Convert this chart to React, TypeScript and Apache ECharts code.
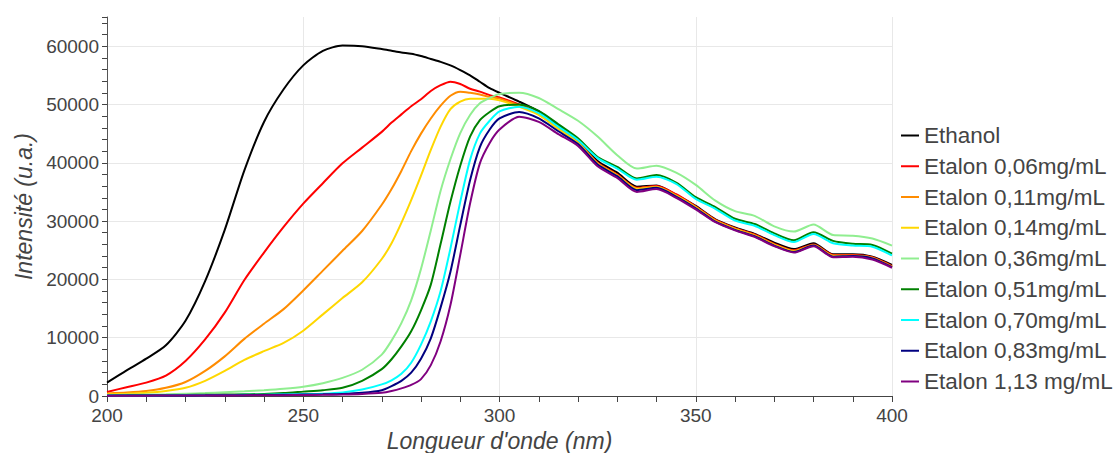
import React, { useEffect, useRef } from "react";
import * as echarts from "echarts";

const wavelengths = [
  200, 205, 210, 215, 220, 225, 230, 235, 240, 245, 250, 255, 260, 265, 270,
  272.5, 275, 277.5, 280, 282.5, 285, 287.5, 290, 292.5, 295, 297.5,
  300, 305, 310, 315, 320, 325, 330, 335, 340, 345, 350, 355, 360, 365, 370, 375, 380, 385, 390, 395, 400,
];

const seriesNames = [
  "Ethanol",
  "Etalon 0,06mg/mL",
  "Etalon 0,11mg/mL",
  "Etalon 0,14mg/mL",
  "Etalon 0,36mg/mL",
  "Etalon 0,51mg/mL",
  "Etalon 0,70mg/mL",
  "Etalon 0,83mg/mL",
  "Etalon 1,13 mg/mL",
];

const seriesColors = ["#000000", "#ff0000", "#ff8c00", "#ffd700", "#90ee90", "#008000", "#00ffff", "#000080", "#800080"];

const ethanol = [
  2300, 4400, 6400, 8700, 12900, 19700, 28500, 38700, 47000, 52600, 56700, 59200, 60100, 60000, 59500,
  59200, 58900, 58700, 58300, 57800, 57300, 56700, 55900, 55000, 53900, 52800,
  52000, 50500, 48800, 46400, 43900, 40300, 38300, 35900, 36100, 34500, 32600, 30300, 28900, 27800, 26300, 25200, 26200, 24300, 24300, 23900, 22500,
];
const etalon006 = [
  700, 1500, 2300, 3500, 6000, 9700, 14300, 19900, 24600, 29000, 33000, 36500, 39900, 42600, 45300,
  46900, 48300, 49700, 50900, 52300, 53300, 53900, 53500, 52700, 52200, 51600,
  51200, 50000, 48400, 46000, 43600, 40000, 38000, 35700, 36000, 34600, 32500, 30200, 28800, 27700, 26100, 25000, 26000, 24200, 24200, 23800, 22300,
];
const etalon011 = [
  450, 600, 850, 1400, 2400, 4300, 6800, 9800, 12400, 14900, 18100, 21500, 24900, 28300, 32800,
  35500, 38600, 42000, 45000, 47600, 49800, 51500, 52200, 52000, 51700, 51300,
  51000, 49800, 48300, 45900, 43500, 39900, 37900, 35600, 35900, 34400, 32400, 30100, 28700, 27600, 26000, 24900, 25900, 24100, 24100, 23700, 22200,
];
const etalon014 = [
  300, 400, 550, 850, 1400, 2600, 4300, 6200, 7700, 9100, 11200, 14000, 16800, 19500, 23500,
  26200, 29700, 33600, 37800, 42200, 46200, 49200, 50500, 51000, 51000, 51000,
  50700, 49600, 48200, 45800, 43400, 39800, 37800, 35500, 35800, 34300, 32300, 30000, 28600, 27500, 25900, 24800, 25800, 24000, 24000, 23600, 22100,
];
const etalon036 = [
  150, 200, 250, 300, 400, 500, 650, 800, 1000, 1250, 1600, 2200, 3100, 4500, 7100,
  9500, 12500, 16400, 21800, 28400, 35200, 40600, 45100, 48200, 50200, 51100,
  51800, 52000, 51100, 49200, 47200, 44500, 41300, 39000, 39500, 38300, 36200, 33500, 31700, 30900, 29100, 28200, 29400, 27600, 27500, 27000, 25800,
];
const etalon051 = [
  100, 110, 130, 150, 180, 210, 250, 300, 350, 500, 750, 1000, 1400, 2600, 4600,
  6300, 8500, 11100, 14700, 19100, 26100, 33300, 39500, 44500, 47300, 48700,
  49700, 50000, 48900, 46600, 44200, 41000, 39300, 37300, 37900, 36600, 34100, 32400, 30400, 29500, 27900, 26700, 28100, 26600, 26100, 25900, 24400,
];
const etalon070 = [
  80, 90, 100, 110, 130, 150, 170, 200, 230, 280, 340, 400, 600, 1100, 2000,
  2700, 3800, 5700, 8800, 12800, 18000, 25300, 33300, 40500, 45000, 47200,
  48800, 49600, 48500, 46200, 43900, 40800, 39000, 37100, 37600, 36400, 33800, 32100, 30100, 29200, 27600, 26400, 27800, 26200, 25800, 25600, 24100,
];
const etalon083 = [
  60, 70, 80, 90, 100, 110, 130, 150, 170, 200, 240, 280, 350, 550, 1000,
  1700, 2600, 4000, 6400, 9900, 15200, 21300, 29300, 37000, 42700, 45700,
  47600, 48700, 47600, 45400, 43200, 39700, 37700, 35300, 35700, 34200, 32200, 29900, 28500, 27400, 25800, 24700, 25800, 23900, 24000, 23600, 22100,
];
const etalon113 = [
  50, 55, 60, 70, 80, 90, 100, 110, 130, 150, 170, 200, 250, 350, 550,
  850, 1300, 1900, 2900, 5300, 9400, 15600, 24200, 33000, 39900, 43400,
  45700, 47900, 47000, 44900, 42900, 39400, 37400, 35000, 35500, 34000, 32000, 29800, 28400, 27300, 25700, 24600, 25700, 23800, 23900, 23400, 22000,
];

const allValues = [ethanol, etalon006, etalon011, etalon014, etalon036, etalon051, etalon070, etalon083, etalon113];

const FONT = "'Liberation Sans', Arial, Helvetica, sans-serif";
const TEXT = "#444444";
const GRID = "#e8e8e8";

export default function App() {
  const ref = useRef<HTMLDivElement>(null);
  useEffect(() => {
    if (!ref.current) return;
    const chart = echarts.init(ref.current, null, { renderer: "svg" });
    chart.setOption({
      animation: false,
      backgroundColor: "#ffffff",
      textStyle: { fontFamily: FONT },
      grid: [
        { left: 107, right: 226, top: 17, bottom: 57, containLabel: false, outerBoundsMode: "none" },
        { left: 107, right: 226, top: 46.2, bottom: 57, containLabel: false, outerBoundsMode: "none" },
      ],
      legend: {
        orient: "vertical",
        left: 901,
        top: 124,
        padding: 0,
        itemWidth: 18,
        itemHeight: 2,
        itemGap: 7.75,
        icon: "rect",
        data: seriesNames,
        textStyle: { fontSize: 22.5, color: TEXT, fontFamily: FONT, lineHeight: 22 },
      },
      xAxis: [
        {
          type: "value",
          gridIndex: 0,
          min: 200,
          max: 400,
          interval: 50,
          name: "Longueur d'onde (nm)",
          nameLocation: "middle",
          nameGap: 31,
          nameTextStyle: { fontSize: 23, fontStyle: "italic", color: TEXT, fontFamily: FONT },
          axisLine: { show: true, onZero: false, lineStyle: { color: TEXT, width: 1 } },
          axisTick: { show: true, length: 6, lineStyle: { color: TEXT } },
          minorTick: { show: true, splitNumber: 5, length: 6, lineStyle: { color: TEXT } },
          splitLine: { show: true, lineStyle: { color: GRID, width: 1 } },
          axisLabel: { fontSize: 19, color: TEXT, margin: 10, fontFamily: FONT },
        },
        { type: "value", gridIndex: 1, min: 200, max: 400, show: false },
      ],
      yAxis: [
        {
          type: "value",
          gridIndex: 0,
          min: 0,
          max: 65000,
          interval: 10000,
          name: "Intensité (u.a.)",
          nameLocation: "middle",
          nameGap: 72,
          nameTextStyle: { fontSize: 23, fontStyle: "italic", color: TEXT, fontFamily: FONT },
          axisLine: { show: true, lineStyle: { color: "#555555", width: 1 } },
          axisTick: { show: true, length: 5, lineStyle: { color: TEXT } },
          minorTick: { show: true, splitNumber: 5, length: 5, lineStyle: { color: TEXT } },
          splitLine: { show: false },
          axisLabel: {
            fontSize: 19,
            color: TEXT,
            margin: 8,
            fontFamily: FONT,
            showMaxLabel: false,
            formatter: (v: number) => String(v),
          },
        },
        {
          type: "value",
          gridIndex: 1,
          min: 0,
          max: 60000,
          interval: 10000,
          axisLine: { show: false },
          axisTick: { show: false },
          axisLabel: { show: false },
          splitLine: { show: true, lineStyle: { color: GRID, width: 1 } },
        },
      ],
      series: allValues.map((vals, i) => ({
        name: seriesNames[i],
        type: "line",
        xAxisIndex: 0,
        yAxisIndex: 0,
        data: wavelengths.map((w, j) => [w, vals[j]]),
        showSymbol: false,
        symbol: "none",
        smooth: 0.25,
        color: seriesColors[i],
        lineStyle: { width: 2, color: seriesColors[i] },
        z: 3 + i,
      })),
    });
    return () => chart.dispose();
  }, []);
  return (
    <div
      ref={ref}
      style={{ position: "fixed", left: 0, top: 0, width: 1118, height: 453 }}
    />
  );
}
